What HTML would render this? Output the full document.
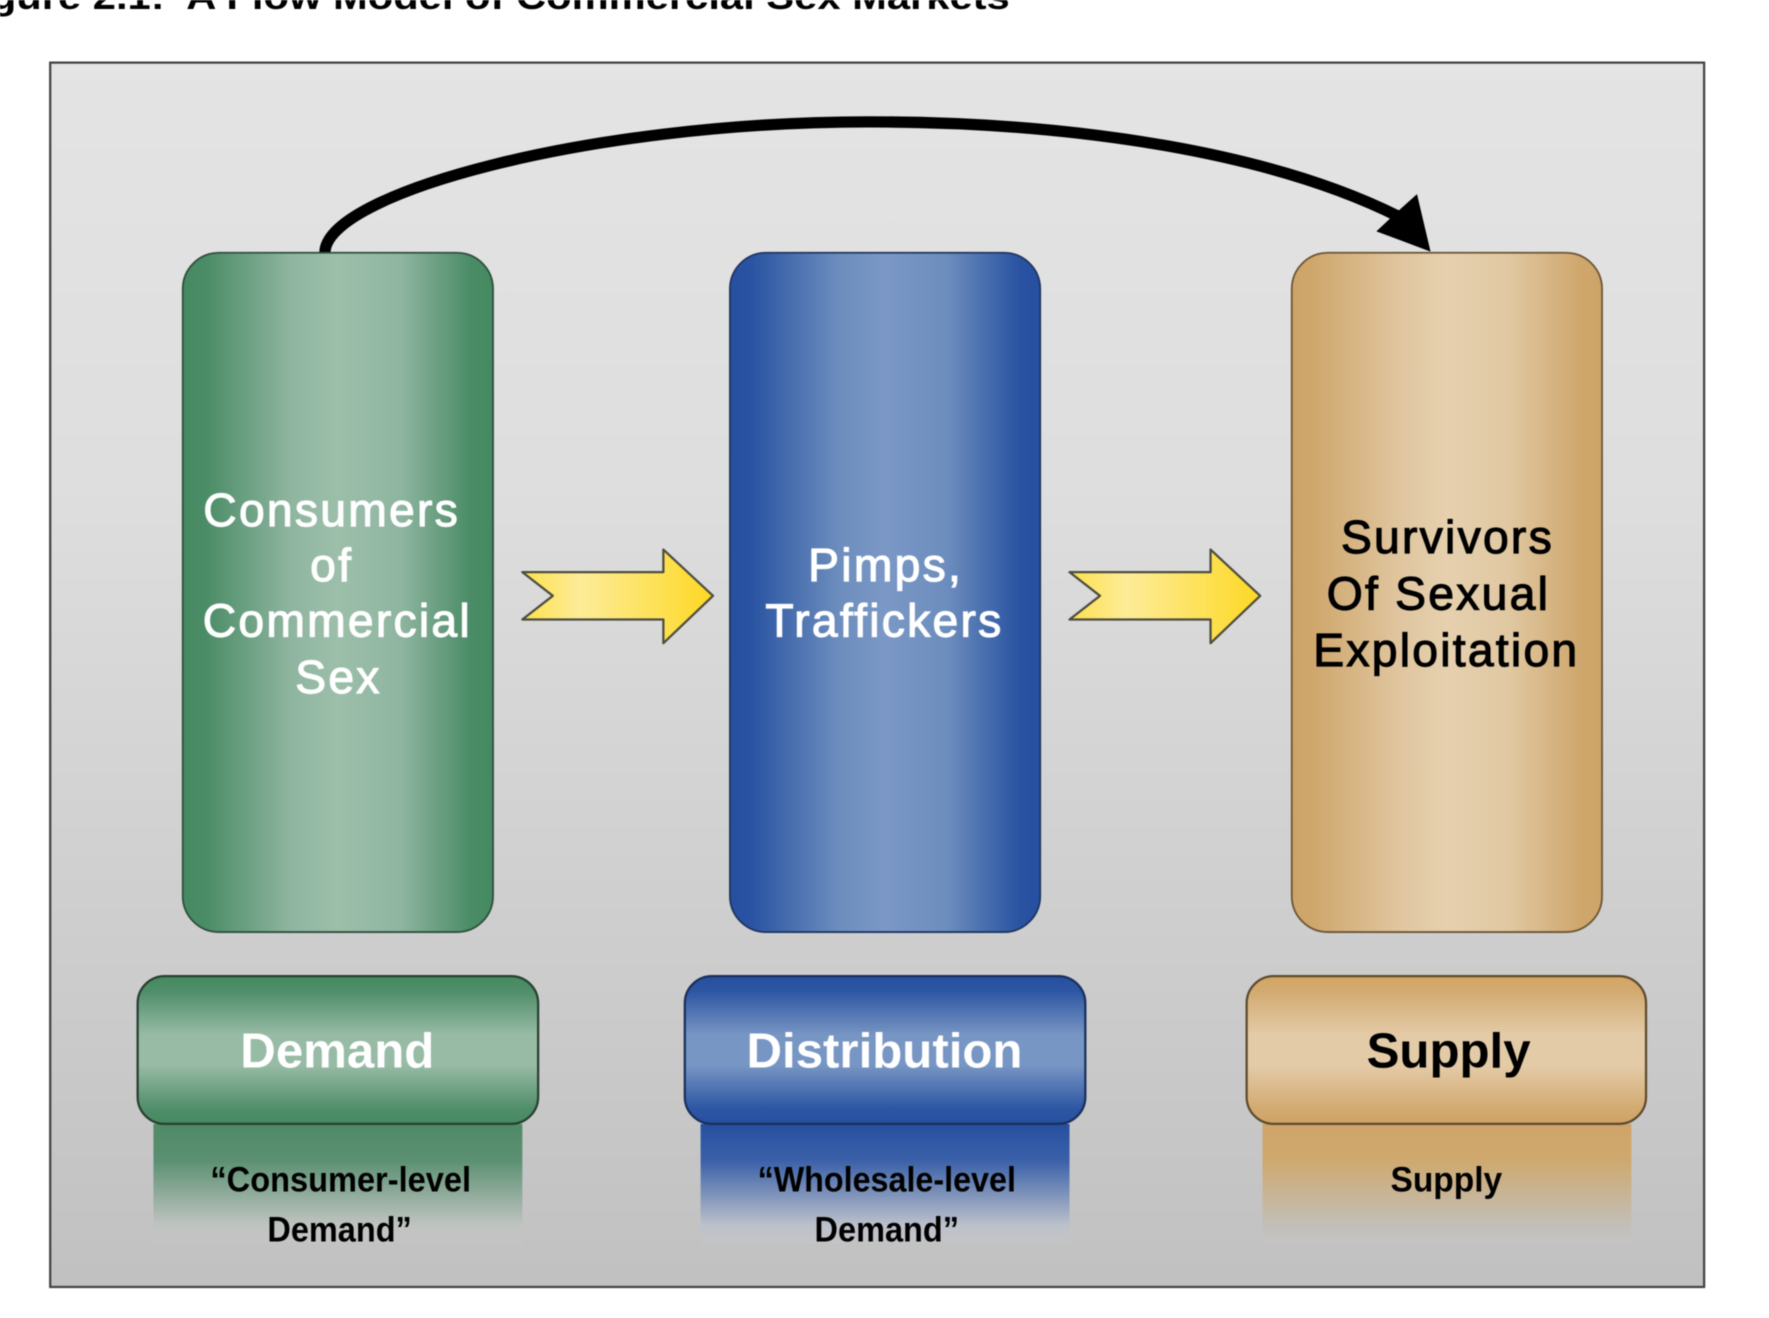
<!DOCTYPE html>
<html><head><meta charset="utf-8"><style>
html,body{margin:0;padding:0;background:#fff;width:1769px;height:1318px;overflow:hidden}
svg{display:block;filter:blur(.6px)}
text{font-family:"Liberation Sans",Arial,sans-serif}
</style></head><body>
<svg width="1769" height="1318" viewBox="0 0 1568 1168" preserveAspectRatio="none" xmlns="http://www.w3.org/2000/svg">
<defs>
<linearGradient id="bg" x1="0" y1="0" x2="0" y2="1"><stop offset="0" stop-color="#e4e4e4"/><stop offset=".35" stop-color="#dedede"/><stop offset="1" stop-color="#c1c1c1"/></linearGradient>
<linearGradient id="gH"><stop offset="0" stop-color="#458a61"/><stop offset=".07" stop-color="#4a8c66"/><stop offset=".35" stop-color="#8fb5a0"/><stop offset=".5" stop-color="#9cbfaa"/><stop offset=".7" stop-color="#8fb5a0"/><stop offset=".93" stop-color="#4a8c66"/><stop offset="1" stop-color="#458a61"/></linearGradient>
<linearGradient id="bH"><stop offset="0" stop-color="#2650a0"/><stop offset=".07" stop-color="#2a54a2"/><stop offset=".35" stop-color="#6c8dbd"/><stop offset=".5" stop-color="#7b98c6"/><stop offset=".7" stop-color="#6c8dbd"/><stop offset=".93" stop-color="#2a54a2"/><stop offset="1" stop-color="#2650a0"/></linearGradient>
<linearGradient id="tH"><stop offset="0" stop-color="#cda468"/><stop offset=".07" stop-color="#cfa76c"/><stop offset=".35" stop-color="#e0c6a0"/><stop offset=".5" stop-color="#e6d0ae"/><stop offset=".7" stop-color="#e0c8a2"/><stop offset=".93" stop-color="#cfa76c"/><stop offset="1" stop-color="#cda468"/></linearGradient>
<linearGradient id="gV" x1="0" y1="0" x2="0" y2="1"><stop offset="0" stop-color="#458a61"/><stop offset=".1" stop-color="#4f8e69"/><stop offset=".4" stop-color="#98bba6"/><stop offset=".6" stop-color="#98bba6"/><stop offset=".9" stop-color="#4f8e69"/><stop offset="1" stop-color="#458a61"/></linearGradient>
<linearGradient id="bV" x1="0" y1="0" x2="0" y2="1"><stop offset="0" stop-color="#2650a0"/><stop offset=".1" stop-color="#2d56a3"/><stop offset=".4" stop-color="#7896c4"/><stop offset=".6" stop-color="#7896c4"/><stop offset=".9" stop-color="#2d56a3"/><stop offset="1" stop-color="#2650a0"/></linearGradient>
<linearGradient id="tV" x1="0" y1="0" x2="0" y2="1"><stop offset="0" stop-color="#d4a662"/><stop offset=".1" stop-color="#d2aa70"/><stop offset=".4" stop-color="#e4cba8"/><stop offset=".6" stop-color="#e4cba8"/><stop offset=".9" stop-color="#d2aa70"/><stop offset="1" stop-color="#cfa264"/></linearGradient>
<linearGradient id="gF" x1="0" y1="0" x2="0" y2="1"><stop offset="0" stop-color="#508a67"/><stop offset=".3" stop-color="#5b9072"/><stop offset=".85" stop-color="#c0c4c1"/><stop offset="1" stop-color="#c4c4c4"/></linearGradient>
<linearGradient id="bF" x1="0" y1="0" x2="0" y2="1"><stop offset="0" stop-color="#2650a0"/><stop offset=".3" stop-color="#3a60a8"/><stop offset=".85" stop-color="#bcc1cb"/><stop offset="1" stop-color="#c4c4c4"/></linearGradient>
<linearGradient id="tF" x1="0" y1="0" x2="0" y2="1"><stop offset="0" stop-color="#cfa468"/><stop offset=".3" stop-color="#cfa96f"/><stop offset=".85" stop-color="#c2bfb8"/><stop offset="1" stop-color="#c4c4c4"/></linearGradient>
<linearGradient id="yl"><stop offset="0" stop-color="#fde04c"/><stop offset=".3" stop-color="#fdec98"/><stop offset=".6" stop-color="#fde468"/><stop offset="1" stop-color="#fdd823"/></linearGradient>
</defs>
<rect width="1568" height="1168" fill="#fff"/>
<text x="-41" y="8" font-size="32" font-weight="700" fill="#000" textLength="936" lengthAdjust="spacingAndGlyphs" xml:space="preserve">Figure 2.1:  A Flow Model of Commercial Sex Markets</text>
<rect x="44.5" y="55.5" width="1466" height="1085" fill="url(#bg)" stroke="#444" stroke-width="2"/>

<path d="M288 224C288 172 520 108 770 108C960 108 1130 137 1240 192" fill="none" stroke="#000" stroke-width="10"/>
<path d="M1268 223L1256 172L1236 190L1220 205Z" fill="#000"/>

<rect x="162" y="224" width="275" height="602" rx="32" fill="url(#gH)" stroke="#2f4f3c" stroke-width="1.6"/>
<rect x="647" y="224" width="275" height="602" rx="32" fill="url(#bH)" stroke="#1f3560" stroke-width="1.6"/>
<rect x="1145" y="224" width="275" height="602" rx="32" fill="url(#tH)" stroke="#6b5536" stroke-width="1.6"/>

<g font-size="41" fill="#fff" stroke="#fff" stroke-width="1" letter-spacing="2" text-anchor="middle">
<text x="294" y="466">Consumers</text>
<text x="294" y="515">of</text>
<text x="299" y="564">Commercial</text>
<text x="300" y="614">Sex</text>
<text x="785" y="515">Pimps,</text>
<text x="784" y="564">Traffickers</text>
</g>
<g font-size="41" fill="#000" stroke="#000" stroke-width="1" letter-spacing="2" text-anchor="middle">
<text x="1283" y="490">Survivors</text>
<text x="1275" y="540">Of Sexual</text>
<text x="1282" y="590">Exploitation</text>
</g>

<g stroke="#4d4d40" stroke-width="2" stroke-linejoin="round">
<path d="M463 507H588V487L632 528L588 570V549H463L490 528Z" fill="url(#yl)"/>
<path d="M948 507H1073V487L1117 528L1073 570V549H948L975 528Z" fill="url(#yl)"/>
</g>

<rect x="136" y="996" width="327" height="106" fill="url(#gF)"/>
<rect x="621" y="996" width="327" height="106" fill="url(#bF)"/>
<rect x="1119" y="996" width="327" height="106" fill="url(#tF)"/>

<rect x="122" y="865" width="355" height="131" rx="24" fill="url(#gV)" stroke="#28402f" stroke-width="2"/>
<rect x="607" y="865" width="355" height="131" rx="24" fill="url(#bV)" stroke="#1a2f5c" stroke-width="2"/>
<rect x="1105" y="865" width="354" height="131" rx="24" fill="url(#tV)" stroke="#5e4a2e" stroke-width="2"/>

<g font-size="43.6" font-weight="700" text-anchor="middle">
<text x="299" y="946" fill="#fff">Demand</text>
<text x="784" y="946" fill="#fff">Distribution</text>
<text x="1284" y="946" fill="#000">Supply</text>
</g>
<g font-size="31" font-weight="700" text-anchor="middle" fill="#000">
<text x="302" y="1056" textLength="231" lengthAdjust="spacingAndGlyphs">“Consumer-level</text>
<text x="301" y="1100" textLength="128" lengthAdjust="spacingAndGlyphs">Demand”</text>
<text x="786" y="1056" textLength="229" lengthAdjust="spacingAndGlyphs">“Wholesale-level</text>
<text x="786" y="1100" textLength="128" lengthAdjust="spacingAndGlyphs">Demand”</text>
<text x="1282" y="1056" textLength="99" lengthAdjust="spacingAndGlyphs">Supply</text>
</g>
</svg>
</body></html>
